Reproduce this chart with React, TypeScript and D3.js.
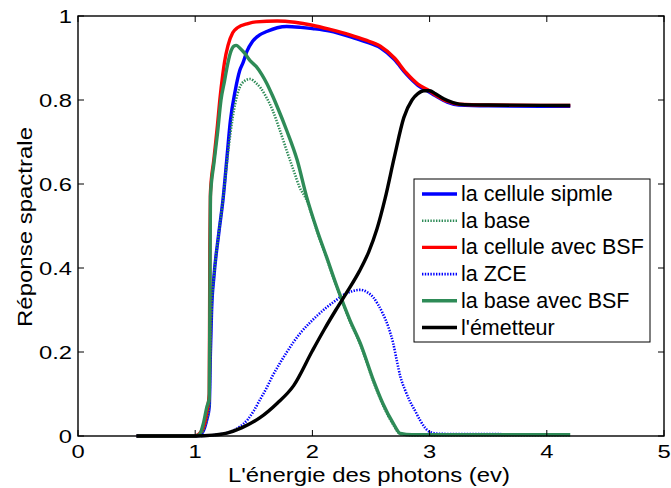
import React from "react";
import * as d3 from "d3";

// photon energy (eV) vs spectral response
const cellSimple: [number, number][] = [
  [0.5, 0], [1.0, 0], [1.05, 0.005], [1.08, 0.02], [1.1, 0.04], [1.12, 0.07],
  [1.13, 0.2], [1.14, 0.3], [1.16, 0.38], [1.2, 0.48], [1.24, 0.57], [1.27, 0.66],
  [1.3, 0.75], [1.34, 0.82], [1.38, 0.87], [1.41, 0.89], [1.44, 0.915], [1.49, 0.94],
  [1.55, 0.955], [1.61, 0.963], [1.7, 0.972], [1.78, 0.975], [1.9, 0.973], [2.0, 0.97],
  [2.15, 0.964], [2.32, 0.951], [2.45, 0.939], [2.58, 0.924], [2.7, 0.896], [2.8, 0.862],
  [2.9, 0.835], [2.98, 0.822], [3.05, 0.81], [3.15, 0.795], [3.25, 0.788], [3.5, 0.786],
  [4.2, 0.785],
];

const baseOnly: [number, number][] = [
  [0.5, 0], [1.0, 0], [1.05, 0.005], [1.08, 0.02], [1.1, 0.04], [1.12, 0.07],
  [1.13, 0.2], [1.14, 0.3], [1.16, 0.38], [1.2, 0.48], [1.24, 0.57], [1.27, 0.65],
  [1.3, 0.72], [1.34, 0.79], [1.38, 0.83], [1.42, 0.845], [1.47, 0.85], [1.52, 0.84],
  [1.56, 0.828], [1.6, 0.81], [1.66, 0.776], [1.72, 0.73], [1.78, 0.68], [1.84, 0.632],
  [1.89, 0.593], [1.95, 0.562], [2.04, 0.487], [2.12, 0.424], [2.21, 0.353],
  [2.32, 0.273], [2.41, 0.217], [2.52, 0.13], [2.6, 0.075], [2.69, 0.027], [2.75, 0.005],
  [2.85, 0.002], [4.2, 0.002],
];

const cellBsf: [number, number][] = [
  [0.5, 0], [1.0, 0], [1.05, 0.01], [1.08, 0.03], [1.1, 0.06], [1.12, 0.1],
  [1.125, 0.45], [1.13, 0.58], [1.16, 0.66], [1.19, 0.74], [1.21, 0.8], [1.235, 0.86],
  [1.25, 0.89], [1.28, 0.93], [1.32, 0.96], [1.36, 0.972], [1.45, 0.982], [1.52, 0.986],
  [1.7, 0.988], [1.85, 0.985], [2.0, 0.978], [2.15, 0.968], [2.32, 0.955], [2.45, 0.943],
  [2.58, 0.928], [2.7, 0.9], [2.8, 0.865], [2.9, 0.838], [2.98, 0.825], [3.05, 0.812],
  [3.15, 0.797], [3.25, 0.79], [3.5, 0.788], [4.2, 0.787],
];

const zce: [number, number][] = [
  [0.5, 0], [1.0, 0], [1.1, 0.001], [1.21, 0.004], [1.3, 0.01], [1.38, 0.022],
  [1.45, 0.04], [1.5, 0.06], [1.55, 0.085], [1.61, 0.115], [1.66, 0.143], [1.72, 0.172],
  [1.78, 0.199], [1.84, 0.224], [1.9, 0.246], [1.98, 0.27], [2.05, 0.289], [2.12, 0.306],
  [2.2, 0.323], [2.26, 0.335], [2.33, 0.344], [2.41, 0.348], [2.47, 0.342], [2.52, 0.33],
  [2.56, 0.313], [2.6, 0.292], [2.65, 0.258], [2.69, 0.22], [2.72, 0.18], [2.75, 0.142],
  [2.79, 0.11], [2.83, 0.084], [2.88, 0.058], [2.92, 0.037], [2.96, 0.02], [3.0, 0.01],
  [3.1, 0.005], [4.2, 0.004],
];

const baseBsf: [number, number][] = [
  [0.5, 0], [1.0, 0], [1.04, 0.005], [1.07, 0.03], [1.1, 0.07], [1.12, 0.09],
  [1.125, 0.3], [1.13, 0.57], [1.16, 0.65], [1.19, 0.72], [1.22, 0.8], [1.25, 0.845],
  [1.27, 0.876], [1.3, 0.912], [1.33, 0.928], [1.35, 0.93], [1.38, 0.924], [1.42, 0.912],
  [1.47, 0.893], [1.52, 0.88], [1.57, 0.86], [1.61, 0.84], [1.66, 0.81], [1.7, 0.784],
  [1.78, 0.728], [1.87, 0.657], [1.95, 0.57], [2.04, 0.49], [2.12, 0.427], [2.21, 0.355],
  [2.32, 0.276], [2.41, 0.22], [2.52, 0.133], [2.6, 0.078], [2.69, 0.03], [2.75, 0.006],
  [2.85, 0.003], [4.2, 0.003],
];

const emitter: [number, number][] = [
  [0.5, 0], [1.0, 0], [1.15, 0.002], [1.27, 0.007], [1.4, 0.02], [1.55, 0.043],
  [1.7, 0.078], [1.84, 0.12], [2.0, 0.203], [2.1, 0.253], [2.2, 0.3], [2.3, 0.345],
  [2.4, 0.392], [2.48, 0.438], [2.55, 0.492], [2.62, 0.565], [2.7, 0.665], [2.78, 0.758],
  [2.85, 0.8], [2.9, 0.815], [2.95, 0.822], [3.0, 0.822], [3.05, 0.815], [3.12, 0.803],
  [3.2, 0.794], [3.3, 0.789], [3.5, 0.788], [4.2, 0.787],
];

const xTicks = [0, 1, 2, 3, 4, 5];
const yTicks = [0, 0.2, 0.4, 0.6, 0.8, 1];
const yTickLabels = ["0", "0.2", "0.4", "0.6", "0.8", "1"];

const seriesNames = [
  "la cellule sipmle",
  "la base",
  "la cellule avec BSF",
  "la ZCE",
  "la base avec BSF",
  "l'émetteur",
];
const seriesColors = ["#0000ff", "#2e8b57", "#ff0000", "#0000ff", "#2e8b57", "#000000"];
const seriesDotted = [false, true, false, true, false, false];
const seriesData = [cellSimple, baseOnly, cellBsf, zce, baseBsf, emitter];

const W = 671;
const H = 488;
const FONT = "'Liberation Sans', Arial, sans-serif";

export default function App() {
  const left = 78;
  const right = 664;
  const top = 16;
  const bottom = 436;

  const x = d3.scaleLinear().domain([0, 5]).range([left, right]);
  const y = d3.scaleLinear().domain([0, 1]).range([bottom, top]);

  const line = d3
    .line<[number, number]>()
    .x((d) => x(d[0]))
    .y((d) => y(d[1]))
    .curve(d3.curveMonotoneX);

  const tickLen = 6;
  const legX = 414;
  const legY = 179;
  const rowH = 26.7;

  return (
    <svg
      width={W}
      height={H}
      style={{ position: "absolute", left: 0, top: 0, background: "#fff" }}
      fontFamily={FONT}
    >
      <rect x={0} y={0} width={W} height={H} fill="#fff" />

      {/* curves */}
      {seriesData.map((data, i) => (
        <path
          key={i}
          d={line(data) || ""}
          fill="none"
          stroke={seriesColors[i]}
          strokeWidth={seriesDotted[i] ? 2.6 : 3.4}
          strokeDasharray={seriesDotted[i] ? "1.4 1.4" : undefined}
          strokeLinejoin="round"
        />
      ))}

      {/* axes box */}
      <rect
        x={left}
        y={top}
        width={right - left}
        height={bottom - top}
        fill="none"
        stroke="#000"
        strokeWidth={1.4}
      />

      {xTicks.map((t) => (
        <g key={"x" + t}>
          <line x1={x(t)} x2={x(t)} y1={bottom} y2={bottom - tickLen} stroke="#000" />
          <line x1={x(t)} x2={x(t)} y1={top} y2={top + tickLen} stroke="#000" />
          <text
            transform={`translate(${x(t)},458) scale(1.25,1)`}
            textAnchor="middle"
            fontSize={19}
            fill="#000"
          >
            {t}
          </text>
        </g>
      ))}

      {yTicks.map((t, i) => (
        <g key={"y" + t}>
          <line x1={left} x2={left + tickLen} y1={y(t)} y2={y(t)} stroke="#000" />
          <line x1={right} x2={right - tickLen} y1={y(t)} y2={y(t)} stroke="#000" />
          <text
            transform={`translate(72,${y(t) + 7}) scale(1.25,1)`}
            textAnchor="end"
            fontSize={19}
            fill="#000"
          >
            {yTickLabels[i]}
          </text>
        </g>
      ))}

      {/* axis labels */}
      <text
        x={369}
        y={482}
        textAnchor="middle"
        fontSize={19.5}
        textLength={282}
        lengthAdjust="spacingAndGlyphs"
        fill="#000"
      >
        L'énergie des photons (ev)
      </text>
      <text
        transform="translate(32,227) rotate(-90)"
        textAnchor="middle"
        fontSize={21}
        textLength={200}
        lengthAdjust="spacingAndGlyphs"
        fill="#000"
      >
        Réponse spactrale
      </text>

      {/* legend */}
      <rect x={legX} y={legY} width={236} height={163} fill="#fff" stroke="#000" strokeWidth={1} />
      {seriesNames.map((name, i) => {
        const cy = 194 + i * rowH;
        return (
          <g key={name}>
            <line
              x1={422}
              x2={457}
              y1={cy}
              y2={cy}
              stroke={seriesColors[i]}
              strokeWidth={seriesDotted[i] ? 2.6 : 3.4}
              strokeDasharray={seriesDotted[i] ? "1.4 1.4" : undefined}
            />
            <text x={461} y={cy + 7} fontSize={21.5} fill="#000">
              {name}
            </text>
          </g>
        );
      })}
    </svg>
  );
}
